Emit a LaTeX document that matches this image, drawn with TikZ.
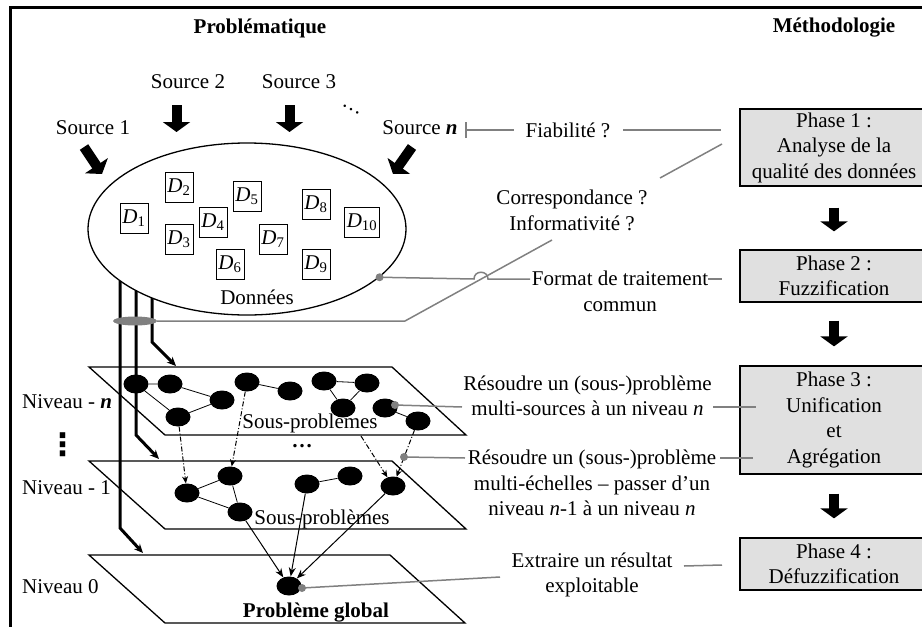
\documentclass[tikz,border=0pt]{standalone}
\usepackage{fontspec}
\setmainfont{Liberation Serif}
\newfontfamily\symbolfont{DejaVu Sans}
\usetikzlibrary{arrows.meta,shapes.geometric,calc}
\definecolor{linkgray}{RGB}{128,128,128}
\definecolor{phasefill}{RGB}{224,224,224}
\begin{document}
\begin{tikzpicture}[x=1pt,y=-1pt,
  font=\fontsize{21}{25.5}\selectfont,
  txt/.style={inner sep=0pt, align=center},
  title/.style={txt, font=\fontsize{21}{25.5}\selectfont\bfseries},
  phase/.style={draw=black, line width=1.3pt, fill=phasefill, minimum width=188pt, align=center, inner sep=0pt},
  blockarrow/.style={line width=10pt, -{Triangle[length=10pt,width=27pt]}},
  dbox/.style={draw, line width=0.8pt, minimum width=28pt, minimum height=30pt, inner sep=2pt},
  sp/.style={ellipse, fill=black, minimum width=25pt, minimum height=19pt, inner sep=0pt},
  edge/.style={line width=0.8pt},
  plane/.style={line width=1.3pt, line join=miter},
  busline/.style={line width=3pt, -{Stealth[length=9pt,width=8pt]}},
  dd/.style={line width=1pt, dash pattern=on 5pt off 2pt on 1pt off 2pt, -{Stealth[length=7pt,width=6pt]}},
  solve/.style={line width=1pt, -{Stealth[length=9pt,width=7pt]}},
  gline/.style={draw=linkgray, line width=1.5pt},
  gdot/.style={circle, fill=linkgray, inner sep=0pt, minimum size=8pt},
]
\useasboundingbox (0,0) rectangle (922,627);

% outer frame
\draw[line width=2.7pt] (10.5,640) -- (10.5,7.8) -- (940,7.8);

% column titles
\node[title] (tprob) at (260,28) {Problématique};
\node[title] (tmeth) at (834,28) {Méthodologie};

% methodology phases
\node[phase, minimum height=77pt]  (p1) at (834,147.5) {Phase 1 :\\Analyse de la\\qualité des données};
\node[phase, minimum height=52pt]  (p2) at (834,276)   {Phase 2 :\\Fuzzification};
\node[phase, minimum height=108pt] (p3) at (834,420)   {Phase 3 :\\Unification\\et\\Agrégation};
\node[phase, minimum height=52pt]  (p4) at (834,564)   {Phase 4 :\\Défuzzification};
\draw[blockarrow, shorten <=21pt, shorten >=18pt] (p1.south) -- (p2.north);
\draw[blockarrow, shorten <=18pt, shorten >=19pt] (p2.south) -- (p3.north);
\draw[blockarrow, shorten <=19pt, shorten >=19pt] (p3.south) -- (p4.north);

% bus lines from the data pool to each level
\coordinate (bA) at (120,281); \coordinate (bAk) at (120,528); \coordinate (bAe) at (143,553);
\coordinate (bB) at (136,291); \coordinate (bBk) at (136,435); \coordinate (bBe) at (159,459);
\coordinate (bC) at (152,298); \coordinate (bCk) at (152,342); \coordinate (bCe) at (176,366);
\draw[busline] (bA) -- (bAk) -- (bAe);
\draw[busline] (bB) -- (bBk) -- (bBe);
\draw[busline] (bC) -- (bCk) -- (bCe);
\node[ellipse, fill=linkgray, minimum width=44pt, minimum height=9pt, inner sep=0pt] (bus) at (135,321) {};

% data pool
\node[ellipse, draw, line width=1.3pt, minimum width=318pt, minimum height=172pt] (data) at (247,229) {};
\node[txt] (dlab) at (257,297) {Données};
\node[dbox] (d1)  at (134,218) {\textit{D}\textsubscript{1}};
\node[dbox] (d2)  at (179,187) {\textit{D}\textsubscript{2}};
\node[dbox] (d3)  at (179,239) {\textit{D}\textsubscript{3}};
\node[dbox] (d4)  at (213,222) {\textit{D}\textsubscript{4}};
\node[dbox] (d5)  at (247,196) {\textit{D}\textsubscript{5}};
\node[dbox] (d6)  at (230,264) {\textit{D}\textsubscript{6}};
\node[dbox] (d7)  at (273,239) {\textit{D}\textsubscript{7}};
\node[dbox] (d8)  at (316,204) {\textit{D}\textsubscript{8}};
\node[dbox] (d9)  at (316,264) {\textit{D}\textsubscript{9}};
\node[dbox] (d10) at (362,222) {\textit{D}\textsubscript{10}};

% sources
\node[txt] (s1) at (93,128)  {Source 1};
\node[txt] (s2) at (188,82)  {Source 2};
\node[txt] (s3) at (299,82)  {Source 3};
\node[txt] (sn) at (420,128) {Source \textbf{\textit{n}}};
\node[txt, rotate=-28] (sdots) at (351,110) {…};
\coordinate (s1a) at (84,147);    \coordinate (s1b) at (102,174);
\coordinate (s2a) at (176.5,105); \coordinate (s2b) at (176.5,132);
\coordinate (s3a) at (289.5,105); \coordinate (s3b) at (289.5,132);
\coordinate (sna) at (412,147);   \coordinate (snb) at (393,174);
\draw[blockarrow] (s1a) -- (s1b);
\draw[blockarrow] (s2a) -- (s2b);
\draw[blockarrow] (s3a) -- (s3b);
\draw[blockarrow] (sna) -- (snb);

% levels
\draw[plane] (89,367) -- (392,367) -- (466,435) -- (165,435) -- cycle;
\draw[plane] (89,461) -- (392,461) -- (466,529) -- (165,529) -- cycle;
\draw[plane] (89,555) -- (390,555) -- (465,623) -- (165,623) -- cycle;
\node[txt, anchor=west] (ln) at (22,402) {Niveau - \textbf{\textit{n}}};
\node[txt, anchor=west] (l1) at (22,488) {Niveau - 1};
\node[txt, anchor=west] (l0) at (22,587) {Niveau 0};
\node[txt, font=\symbolfont\bfseries\fontsize{31}{31}\selectfont] (vdots) at (63,445) {⋮};
\node[txt] (spn) at (310,423) {Sous-problèmes};
\node[txt] (sp1) at (322,519) {Sous-problèmes};
\node[txt, font=\bfseries\fontsize{21}{25.5}\selectfont] (hdots) at (302,446) {…};
\node[title] (pg) at (316,613) {Problème global};

% sub-problems, level n
\node[sp] (a1) at (136,384) {};
\node[sp] (a2) at (170,384) {};
\node[sp] (a3) at (222,400) {};
\node[sp] (a4) at (178,417) {};
\node[sp] (b1) at (247,382) {};
\node[sp] (b2) at (290,391) {};
\node[sp] (c1) at (324,381) {};
\node[sp] (c2) at (367,383) {};
\node[sp] (c3) at (343,408) {};
\node[sp] (c4) at (385,408) {};
\node[sp] (c5) at (418,421) {};
% sub-problems, level 1
\node[sp] (e1a) at (187,493) {};
\node[sp] (e1b) at (230,476) {};
\node[sp] (e1c) at (240,512) {};
\node[sp] (f1a) at (307,484) {};
\node[sp] (f1b) at (350,476) {};
\node[sp] (g1)  at (393,486) {};
% global problem
\node[sp] (G) at (289,586) {};

\draw[edge] (a1) -- (a2) (a2) -- (a3) (a3) -- (a4) (a4) -- (a1)
            (b1) -- (b2)
            (c1) -- (c2) (c1) -- (c3) (c2) -- (c3) (c4) -- (c5)
            (e1a) -- (e1b) (e1a) -- (e1c) (e1b) -- (e1c)
            (f1a) -- (f1b);
\draw[dd] (a4) -- (e1a);
\draw[dd] (b1) -- (e1b);
\draw[dd, shorten <=23pt] (c3) -- (g1);
\draw[dd] (c5) -- (g1);
\draw[solve] (e1c) -- (G);
\draw[solve] (f1a) -- (G);
\draw[solve] (g1) -- (G);

% quality questions
\node[txt] (fia) at (568,130) {Fiabilité ?};
\coordinate (fbar) at (465,130);
\draw[gline, {Bar[width=16pt]}-] (fbar) -- ([xshift=-12pt]fia.west);
\draw[gline, shorten >=18pt] ([xshift=13pt]fia.east) -- (fia.east -| p1.west);

\node[txt] (corr) at (572,210.5) {Correspondance ?\\Informativité ?};
\coordinate (cq1) at (722,144); \coordinate (cq2) at (660,178);
\coordinate (cq3) at (552,240); \coordinate (cq4) at (405,321);
\draw[gline] (cq1) -- (cq2);
\draw[gline] (cq3) -- (cq4) -- (bus.east);

% common processing format
\node[gdot] (fdot) at (data.-20) {};
\node[txt] (fmt) at (620,291.5) {Format de traitement\\commun};
\coordinate (hopA) at (474,279); \coordinate (hopB) at (488,279);
\coordinate (fmtL) at (530,279); \coordinate (fmtR) at (708,279); \coordinate (fmtE) at (722,279);
\draw[gline] (fdot.center) -- (hopA) .. controls (474,270) and (488,270) .. (hopB) -- (fmtL);
\draw[gline] (fmtR) -- (fmtE);

% unification and aggregation
\node[gdot] (rdot1) at ($(c4.center)+(10,-3)$) {};
\node[txt] (r1) at (587.5,396) {Résoudre un (sous-)problème\\multi-sources à un niveau \textit{n}};
\coordinate (r1L) at (462,407); \coordinate (r1R) at (713,407); \coordinate (r1E) at (756,407);
\draw[gline] (rdot1.center) -- (r1L);
\draw[gline] (r1R) -- (r1E);

\node[gdot] (rdot2) at (404,457) {};
\node[txt] (r2) at (592,483) {Résoudre un (sous-)problème\\multi-échelles – passer d’un\\niveau \textit{n}-1 à un niveau \textit{n}};
\coordinate (r2L) at (465,458); \coordinate (r2R) at (720,458); \coordinate (r2E) at (753,458);
\draw[gline] (rdot2.center) -- (r2L);
\draw[gline] (r2R) -- (r2E);

% defuzzification
\node[gdot] (gdotG) at (302,588) {};
\node[txt] (ex) at (592,575) {Extraire un résultat\\exploitable};
\coordinate (exL) at (500,577); \coordinate (exR) at (684,566); \coordinate (exE) at (722,565);
\draw[gline] (gdotG.center) -- (exL);
\draw[gline] (exR) -- (exE);
\end{tikzpicture}
\end{document}
